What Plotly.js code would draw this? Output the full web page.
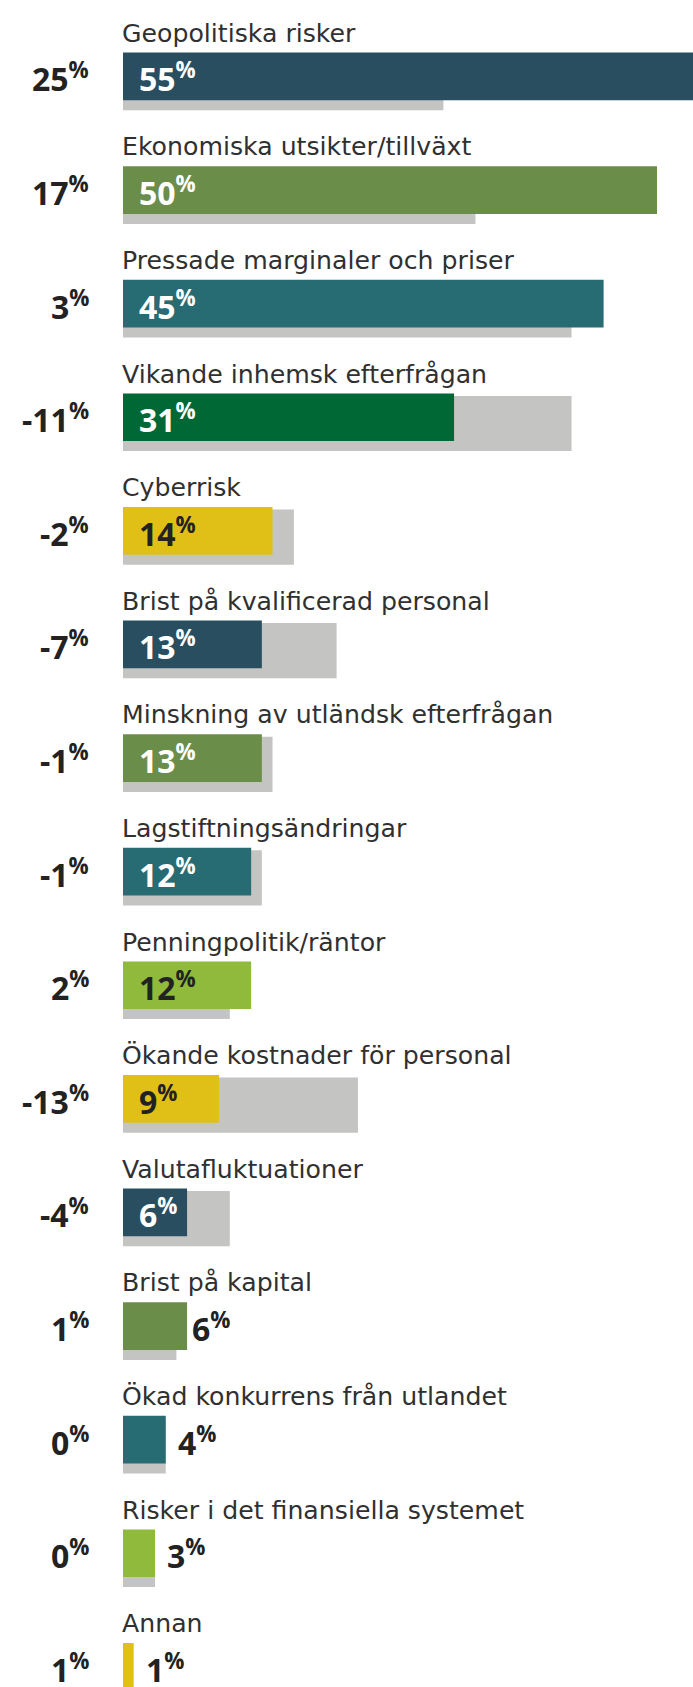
<!DOCTYPE html>
<html><head><meta charset="utf-8">
<script src="https://cdn.plot.ly/plotly-3.0.1.min.js"></script>
<style>html,body{margin:0;padding:0;background:#fff;overflow:hidden} #chart{width:693px;height:1687px;}</style>
</head><body><div id="chart"></div>
<script>
// ---- data ----
const categories = [
  "Geopolitiska risker",
  "Ekonomiska utsikter/tillväxt",
  "Pressade marginaler och priser",
  "Vikande inhemsk efterfrågan",
  "Cyberrisk",
  "Brist på kvalificerad personal",
  "Minskning av utländsk efterfrågan",
  "Lagstiftningsändringar",
  "Penningpolitik/räntor",
  "Ökande kostnader för personal",
  "Valutafluktuationer",
  "Brist på kapital",
  "Ökad konkurrens från utlandet",
  "Risker i det finansiella systemet",
  "Annan"
];
const current  = [55, 50, 45, 31, 14, 13, 13, 12, 12, 9, 6, 6, 4, 3, 1];
const previous = [30, 33, 42, 42, 16, 20, 14, 13, 10, 22, 10, 5, 4, 3, 0];
const change   = [25, 17, 3, -11, -2, -7, -1, -1, 2, -13, -4, 1, 0, 0, 1];

// ---- styles ----
const palette = {
  navy:   {bar: "#284e5f", text: "#ffffff"},
  olive:  {bar: "#6a8d4a", text: "#ffffff"},
  teal:   {bar: "#276b73", text: "#ffffff"},
  green:  {bar: "#006834", text: "#ffffff"},
  yellow: {bar: "#e0bf17", text: "#222222"},
  lime:   {bar: "#8fba3b", text: "#222222"}
};
const colorKeys = ["navy","olive","teal","green","yellow","navy","olive","teal","lime","yellow","navy","olive","teal","lime","yellow"];
const outsideLabels = new Set([11, 12, 13, 14]);
const outsideGap = {11: 4};
const GREY = "#c4c4c2";
const DARK = "#222222";
const labelFont = {family: "DejaVu Sans", size: 25.2, color: "#303030"};
const numFont = {family: "Open Sans", size: 32, weight: 700};

const rowPx = 113.6;
const firstCenterPx = 76.45;
const H = 1687, W = 693, L = 123;
const yMin = -firstCenterPx / rowPx;
const yMax = (H - firstCenterPx) / rowPx;
const barW = 47.7 / rowPx;
const greyW = 55.2 / rowPx;
const greyOff = 6.25 / rowPx - greyW / 2;

const pct = v => `${v}<sup>%</sup>`;

const traces = [
  {
    type: "bar", orientation: "h",
    y: categories, x: previous,
    width: categories.map(() => greyW),
    offset: categories.map(() => greyOff),
    marker: {color: GREY},
    hoverinfo: "skip"
  },
  {
    type: "bar", orientation: "h",
    y: categories, x: current,
    width: categories.map(() => barW),
    offset: categories.map(() => -barW / 2),
    marker: {color: colorKeys.map(k => palette[k].bar)},
    hoverinfo: "skip"
  }
];

const annotations = [];
categories.forEach((c, i) => {
  // category title above bar
  annotations.push({
    xref: "x", yref: "y", x: 0, y: c,
    text: c, showarrow: false,
    xanchor: "left", yanchor: "bottom",
    xshift: -3, yshift: barW * rowPx / 2 + 2.8,
    font: labelFont
  });
  // change label on the left
  annotations.push({
    xref: "paper", yref: "y", x: 0, y: c,
    text: pct(change[i]), showarrow: false,
    xanchor: "right", yanchor: "middle",
    xshift: -32, yshift: -1,
    font: Object.assign({color: DARK}, numFont)
  });
  // value label
  const out = outsideLabels.has(i);
  annotations.push({
    xref: "x", yref: "y", x: out ? current[i] : 0, y: c,
    text: pct(current[i]), showarrow: false,
    xanchor: "left", yanchor: "middle",
    xshift: out ? (outsideGap[i] !== undefined ? outsideGap[i] : 11) - 1 : 14,
    yshift: -1,
    font: Object.assign({color: out ? DARK : palette[colorKeys[i]].text}, numFont)
  });
});

const layout = {
  width: W, height: H,
  margin: {l: L, r: 0, t: 0, b: 0, pad: 0},
  paper_bgcolor: "#ffffff", plot_bgcolor: "#ffffff",
  barmode: "overlay",
  showlegend: false,
  xaxis: {range: [0, (W - L) / 10.68], showgrid: false, zeroline: false, showticklabels: false, showline: false, fixedrange: true},
  yaxis: {type: "category", range: [yMax, yMin], showgrid: false, zeroline: false, showticklabels: false, showline: false, fixedrange: true},
  annotations: annotations
};

Plotly.newPlot("chart", traces, layout, {staticPlot: true, displayModeBar: false});
</script>
</body></html>
